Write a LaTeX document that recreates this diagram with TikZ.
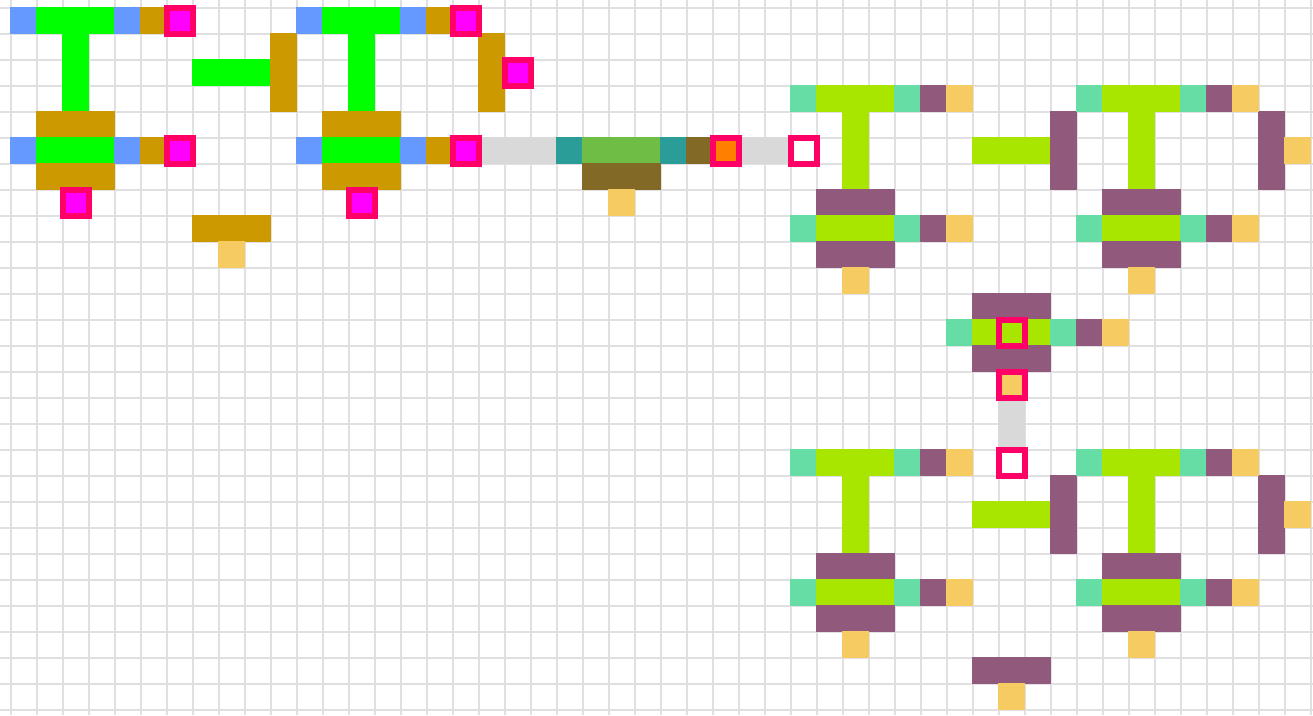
\documentclass[tikz,border=0pt]{standalone}
\usepackage{tikz}

\definecolor{gridgray}{HTML}{E0E0E3}
\definecolor{pinred}{HTML}{FF0066}
\definecolor{pinmagenta}{HTML}{FF00FF}
\definecolor{wiregray}{HTML}{D9D9D9}
\definecolor{sandy}{HTML}{F6CB62}
\definecolor{portblue}{HTML}{6699FF}
\definecolor{goldbar}{HTML}{CC9900}
\definecolor{portmint}{HTML}{66DDA5}
\definecolor{limecore}{HTML}{A8E600}
\definecolor{plumbar}{HTML}{915A7D}
\definecolor{tealport}{HTML}{2A9D98}
\definecolor{leafcore}{HTML}{70BD45}
\definecolor{mudbar}{HTML}{826A26}
\definecolor{pinorange}{HTML}{FF8000}

% one flip-flop, cells in drawing order
\newcommand{\flopcells}{%
  \foreach \s/\c/\r/\w/\h in {portcell/0/0/1/1,corecell/1/0/3/1,portcell/4/0/1/1,barcell/5/0/1/1,
      corecell/2/1/1/3,barcell/1/4/3/1,portcell/0/5/1/1,corecell/1/5/3/1,portcell/4/5/1/1,
      barcell/5/5/1/1,barcell/1/6/3/1,endcell/6/0/1/1,endcell/6/5/1/1,endcell/2/7/1/1}
    \draw[\s] (\c,\r) rectangle ++(\w,\h);
}
% two flip-flops with their link
\newcommand{\pairblock}{%
  \foreach \s/\c/\r/\w/\h in {barcell/18/1/1/3,corecell/7/2/3/1,barcell/10/1/1/3}
    \draw[\s] (\c,\r) rectangle ++(\w,\h);
  \flopcells
  \begin{scope}[shift={(11,0)}]
    \flopcells
  \end{scope}
  \foreach \s/\c/\r/\w/\h in {endcell/19/2/1/1,barcell/7/8/3/1,sandycell/8/9/1/1}
    \draw[\s] (\c,\r) rectangle ++(\w,\h);
}

\begin{document}
\begin{tikzpicture}[
  x=19.5pt,y=-19.5pt,
  gridline/.style={draw=gridgray,line width=1.5pt},
  paint/.style={fill=#1,draw=#1,line width=.75pt},
  pincell/.style={fill=#1,draw=pinred,line width=4.5pt},
  sandycell/.style={paint=sandy},
  wirecell/.style={paint=wiregray},
  lefttile/.style={
    portcell/.style={paint=portblue},corecell/.style={paint=green},
    barcell/.style={paint=goldbar},endcell/.style={pincell=pinmagenta}},
  righttile/.style={
    portcell/.style={paint=portmint},corecell/.style={paint=limecore},
    barcell/.style={paint=plumbar},endcell/.style={paint=sandy}}
]
\useasboundingbox (-.404,-.296) rectangle (50.096,27.204);

% grid
\foreach \c in {0,...,50} \draw[gridline] (\c,-.296) -- (\c,27.204);
\foreach \r in {0,...,27} \draw[gridline] (-.404,\r) -- (50.096,\r);

% wires
\foreach \c/\r/\w/\h in {18/5/3/1,28/5/2/1,38/15/1/2}
  \draw[wirecell] (\c,\r) rectangle ++(\w,\h);

\begin{scope}[lefttile]
  \pairblock
\end{scope}

% centre gate
\foreach \s/\c/\r/\w in {tealport/21/5/1,leafcore/22/5/3,tealport/25/5/1,mudbar/26/5/1,mudbar/22/6/3,sandy/23/7/1}
  \draw[paint=\s] (\c,\r) rectangle ++(\w,1);
\draw[pincell=pinorange] (27,5) rectangle ++(1,1);
\draw[pincell=white] (30,5) rectangle ++(1,1);

\begin{scope}[righttile,shift={(30,3)}]
  \pairblock
\end{scope}
\begin{scope}[righttile,shift={(30,17)}]
  \pairblock
\end{scope}

% gate between the right pairs
\foreach \s/\c/\r/\w in {plumbar/37/11/3,portmint/36/12/1,limecore/37/12/3,portmint/40/12/1,plumbar/41/12/1,sandy/42/12/1,plumbar/37/13/3}
  \draw[paint=\s] (\c,\r) rectangle ++(\w,1);
\draw[pincell=limecore] (38,12) rectangle ++(1,1);
\draw[pincell=sandy] (38,14) rectangle ++(1,1);
\draw[pincell=white] (38,17) rectangle ++(1,1);

\end{tikzpicture}
\end{document}
